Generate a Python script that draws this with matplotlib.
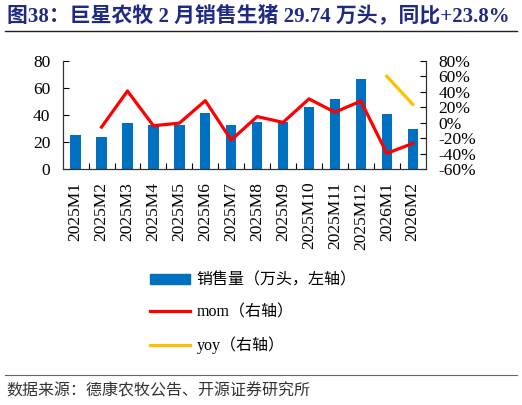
import numpy as np
import matplotlib
matplotlib.use('Agg')
import matplotlib.pyplot as plt
from matplotlib.lines import Line2D
from matplotlib.patches import Patch
from matplotlib.ticker import FuncFormatter, FixedLocator

plt.rcParams['font.family'] = ['Liberation Serif', 'Noto Sans CJK SC', 'DejaVu Sans']

months = ['2025M1', '2025M2', '2025M3', '2025M4', '2025M5', '2025M6', '2025M7',
          '2025M8', '2025M9', '2025M10', '2025M11', '2025M12', '2026M1', '2026M2']
sales = [25.0, 24.0, 33.9, 32.6, 32.6, 41.7, 32.4, 35.1, 34.9, 45.7, 52.0, 66.5, 40.5, 29.74]
mom = [np.nan, -5.6, 41.0, -3.8, -0.5, 28.5, -22.3, 8.0, 0.5, 30.8, 13.6, 28.0, -39.5, -26.6]
yoy = [np.nan] * 12 + [60.0, 23.8]

fig = plt.figure(figsize=(5.22, 4.05), dpi=100)
ax = fig.add_axes([0.120, 0.582, 0.6955, 0.268])
ax2 = ax.twinx()

x = np.arange(len(months))
ax.bar(x, sales, width=0.4, color='#0070C0', zorder=2)
ax2.plot(x, mom, color='#FF0000', lw=2.3, zorder=3)
ax2.plot(x, yoy, color='#FFC000', lw=2.3, zorder=3)

ax.set_xlim(-0.5, len(months) - 0.5)
ax.set_ylim(0, 80)
ax.set_yticks([0, 20, 40, 60, 80])
ax2.set_ylim(-60, 80)
ax2.set_yticks(range(-60, 81, 20))
ax2.yaxis.set_major_formatter(FuncFormatter(lambda v, p: '%d%%' % v))

ax.set_xticks(x)
ax.set_xticklabels(months, rotation=90)
ax.xaxis.set_minor_locator(FixedLocator(np.arange(0.5, len(months) - 1, 1)))
ax.tick_params(axis='x', which='major', length=0, pad=9, labelsize=12.5)
ax.tick_params(axis='x', which='minor', length=4, direction='in', width=0.8)
ax.tick_params(axis='y', direction='in', length=4, pad=9, labelsize=12.5)
ax2.tick_params(axis='y', direction='in', length=4, pad=9, labelsize=12.5)

for a in (ax, ax2):
    a.spines['top'].set_visible(False)
    for s in ('left', 'right', 'bottom'):
        a.spines[s].set_color('#333333')
        a.spines[s].set_linewidth(0.8)

handles = [Patch(color='#0070C0'),
           Line2D([], [], color='#FF0000', lw=2.3),
           Line2D([], [], color='#FFC000', lw=2.3)]
labels = ['销售量（万头，左轴）', 'mom（右轴）', 'yoy（右轴）']
fig.legend(handles, labels, loc='upper left', bbox_to_anchor=(0.26, 0.362),
           frameon=False, fontsize=11.5, handlelength=2.5, handleheight=0.6,
           labelspacing=1.0, handletextpad=0.4)

fig.text(0.013, 1 - 16 / 405, '图38：巨星农牧 2 月销售生猪 29.74 万头，同比+23.8%',
         fontsize=15, fontweight='bold', color='#1F2A85', va='center', ha='left')
fig.add_artist(Line2D([0.01, 0.99], [1 - 31 / 405, 1 - 31 / 405], color='#222222', lw=1.0))
fig.add_artist(Line2D([0.01, 0.99], [1 - 375 / 405, 1 - 375 / 405], color='#666666', lw=0.8))
fig.text(0.013, 1 - 391 / 405, '数据来源：德康农牧公告、开源证券研究所',
         fontsize=11.5, color='#333333', va='center', ha='left')

fig.savefig('out.png', dpi=100)
